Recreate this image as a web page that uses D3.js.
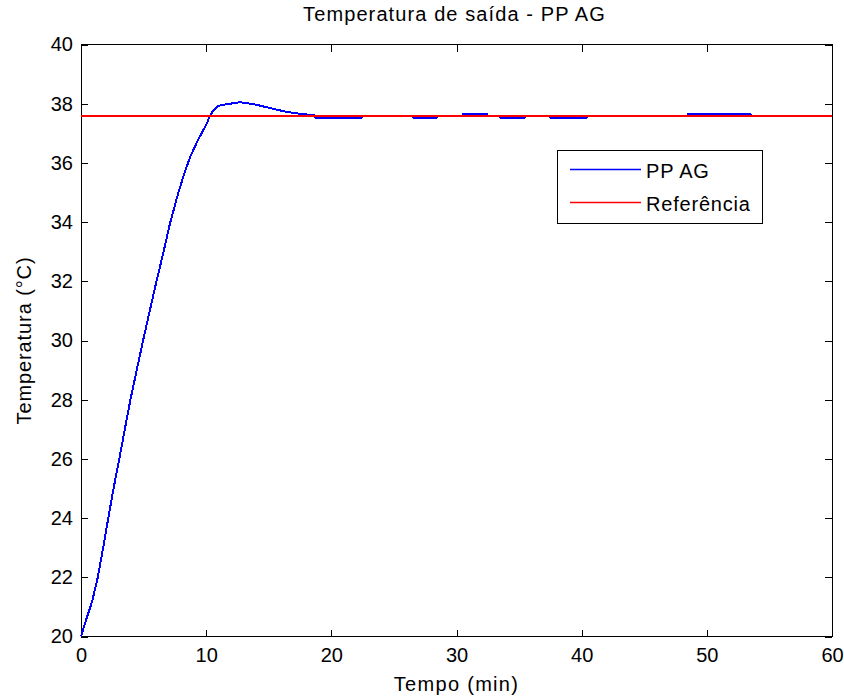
<!DOCTYPE html>
<html>
<head>
<meta charset="utf-8">
<script src="https://cdn.jsdelivr.net/npm/d3@7"></script>
<style>
  html, body { margin: 0; padding: 0; background: #fff; }
  svg { display: block; }
  text { font-family: "Liberation Sans", Arial, sans-serif; fill: #000; }
</style>
</head>
<body>
<svg id="chart" width="844" height="698"></svg>
<script>
// Outlet temperature response (min, °C)
const tempoMin = [
  0, 0.4, 0.9, 1.34, 1.75, 2.18, 2.6, 3.06, 3.5, 3.95, 4.45, 4.95, 5.45, 5.95,
  6.54, 7.12, 7.78, 8.3, 8.72, 9.1, 9.38, 9.7, 10.06, 10.26, 10.46, 10.86,
  11.26, 11.92, 12.72, 13.26, 14.06, 15.12, 16.46, 17.52, 18.18, 18.7,
  18.7, 22.45, 22.45, 26.5, 26.5, 28.45, 28.45, 30.5, 30.5, 32.45, 32.45,
  33.5, 33.5, 35.5, 35.5, 37.5, 37.5, 40.45, 40.45, 48.5, 48.5, 53.5,
  53.5, 60
];
const temperaturaPPAG = [
  20, 20.55, 21.2, 22.0, 22.95, 24.0, 25.0, 26.0, 27.0, 28.0, 29.0, 29.98, 30.92, 31.85,
  32.9, 33.97, 35.0, 35.7, 36.2, 36.55, 36.8, 37.05, 37.34, 37.55, 37.7, 37.9,
  37.96, 38.0, 38.05, 38.02, 37.96, 37.85, 37.72, 37.66, 37.63, 37.6,
  37.53, 37.53, 37.6, 37.6, 37.53, 37.53, 37.6, 37.6, 37.66, 37.66, 37.6,
  37.6, 37.53, 37.53, 37.6, 37.6, 37.53, 37.53, 37.6, 37.6, 37.66, 37.66,
  37.6, 37.6
];
const referencia = 37.6;

const xTicks = [0, 10, 20, 30, 40, 50, 60];
const yTicks = [20, 22, 24, 26, 28, 30, 32, 34, 36, 38, 40];
const seriesNames = ["PP AG", "Referência"];
const seriesColors = ["#0000ff", "#ff0000"];

const W = 844, H = 698;
const margin = { left: 81, right: 12, top: 44.5, bottom: 61.5 };
const x0 = margin.left, x1 = W - margin.right;
const y0 = H - margin.bottom, y1 = margin.top;

const svg = d3.select("#chart");

const x = d3.scaleLinear().domain([0, 60]).range([x0, x1]);
const y = d3.scaleLinear().domain([20, 40]).range([y0, y1]);

// Axes with inward ticks on all four sides
const tick = 7;
const axB = svg.append("g").attr("transform", `translate(0,${y0})`)
  .call(d3.axisBottom(x).tickValues(xTicks).tickSize(-tick).tickSizeOuter(0).tickPadding(11));
const axT = svg.append("g").attr("transform", `translate(0,${y1})`)
  .call(d3.axisTop(x).tickValues(xTicks).tickSize(-tick).tickSizeOuter(0).tickFormat(""));
const axL = svg.append("g").attr("transform", `translate(${x0},0)`)
  .call(d3.axisLeft(y).tickValues(yTicks).tickSize(-tick).tickSizeOuter(0).tickPadding(8));
const axR = svg.append("g").attr("transform", `translate(${x1},0)`)
  .call(d3.axisRight(y).tickValues(yTicks).tickSize(-tick).tickSizeOuter(0).tickFormat(""));

[axB, axT, axL, axR].forEach(g => {
  g.select(".domain").remove();
  g.selectAll("line").attr("stroke", "#000").attr("shape-rendering", "crispEdges");
  g.selectAll("text").attr("font-family", "'Liberation Sans', Arial, sans-serif")
    .attr("font-size", 20).attr("fill", "#000");
});

// Plot box
svg.append("rect")
  .attr("x", x0).attr("y", y1)
  .attr("width", x1 - x0).attr("height", y0 - y1)
  .attr("fill", "none").attr("stroke", "#000").attr("stroke-width", 1)
  .attr("shape-rendering", "crispEdges");

// Response curve
const line = d3.line().x((d, i) => x(tempoMin[i])).y(d => y(d));
svg.append("path")
  .datum(temperaturaPPAG)
  .attr("d", line)
  .attr("fill", "none")
  .attr("stroke", seriesColors[0])
  .attr("stroke-width", 2)
  .attr("stroke-linejoin", "bevel")
  .attr("shape-rendering", "crispEdges");

// Reference setpoint
svg.append("line")
  .attr("x1", x(0)).attr("x2", x(60))
  .attr("y1", y(referencia)).attr("y2", y(referencia))
  .attr("stroke", seriesColors[1]).attr("stroke-width", 2)
  .attr("shape-rendering", "crispEdges");

// Title and axis labels
svg.append("text")
  .attr("x", (x0 + x1) / 2 - 2).attr("y", 21)
  .attr("text-anchor", "middle").attr("font-size", 20)
  .attr("letter-spacing", 1.1)
  .text("Temperatura de saída - PP AG");
svg.append("text")
  .attr("x", (x0 + x1) / 2).attr("y", 691)
  .attr("text-anchor", "middle").attr("font-size", 20)
  .attr("letter-spacing", 1.3)
  .text("Tempo (min)");
svg.append("text")
  .attr("transform", `translate(31,${(y0 + y1) / 2}) rotate(-90)`)
  .attr("text-anchor", "middle").attr("font-size", 20)
  .attr("letter-spacing", 0.9)
  .text("Temperatura (°C)");

// Legend
const lg = svg.append("g");
lg.append("rect")
  .attr("x", 557.5).attr("y", 150.5).attr("width", 205).attr("height", 73)
  .attr("fill", "#fff").attr("stroke", "#000").attr("shape-rendering", "crispEdges");
seriesNames.forEach((name, i) => {
  const ly = 169.5 + i * 33;
  lg.append("line")
    .attr("x1", 570).attr("x2", 641).attr("y1", ly).attr("y2", ly)
    .attr("stroke", seriesColors[i]).attr("stroke-width", 1.5);
  lg.append("text")
    .attr("x", 646).attr("y", ly + 8)
    .attr("font-size", 20)
    .attr("letter-spacing", 0.8)
    .text(name);
});
</script>
</body>
</html>
